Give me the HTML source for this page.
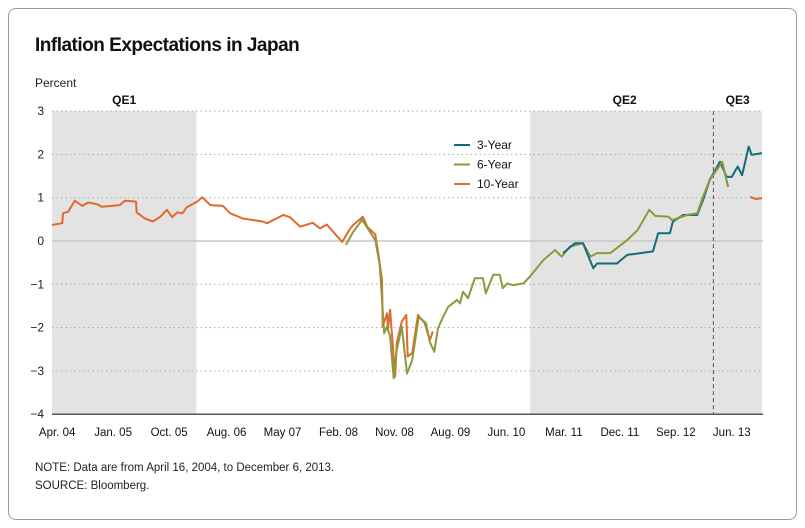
<!DOCTYPE html>
<html><head><meta charset="utf-8"><style>
body{margin:0;background:#fff;font-family:"Liberation Sans",sans-serif;}
#frame{position:absolute;left:8px;top:8px;width:787px;height:510px;border:1px solid #9a9a9a;border-radius:8px;}
</style></head><body>
<div id="frame"></div>
<svg id="chart" width="805" height="528" style="position:absolute;left:0;top:0">
<text x="35" y="51" font-size="19" font-weight="bold" fill="#111" style="letter-spacing:-0.5px">Inflation Expectations in Japan</text>
<text x="35" y="87" font-size="12" fill="#222">Percent</text>
<text x="35" y="471" font-size="11.5" fill="#222">NOTE: Data are from April 16, 2004, to December 6, 2013.</text>
<text x="35" y="489" font-size="11.5" fill="#222">SOURCE: Bloomberg.</text>
<g id="g"></g>
</svg>
<script>
const qeNames=["QE1","QE2","QE3"];
const qeStart=[2004.29,2010.78,2013.27];
const qeEnd=[2006.25,2013.93,2013.93];
const yTicks=[3,2,1,0,-1,-2,-3,-4];
const xLabels=["Apr. 04","Jan. 05","Oct. 05","Aug. 06","May 07","Feb. 08","Nov. 08","Aug. 09","Jun. 10","Mar. 11","Dec. 11","Sep. 12","Jun. 13"];
const xLabelDates=[2004.36,2005.12,2005.88,2006.66,2007.42,2008.18,2008.94,2009.70,2010.46,2011.24,2012.00,2012.76,2013.52];
const y10Dates=[2004.29,2004.43,2004.44,2004.51,2004.60,2004.70,2004.78,2004.90,2004.97,2005.21,2005.28,2005.43,2005.44,2005.55,2005.66,2005.76,2005.85,2005.92,2005.99,2006.06,2006.12,2006.26,2006.33,2006.44,2006.61,2006.71,2006.88,2007.15,2007.21,2007.43,2007.52,2007.66,2007.83,2007.93,2008.02,2008.11,2008.23,2008.34,2008.38,2008.51,2008.57,2008.68,2008.72,2008.77,2008.78,2008.84,2008.85,2008.88,2008.95,2008.97,2009.04,2009.10,2009.12,2009.18,2009.26,2009.35,2009.42,2009.46];
const y10Vals=[0.37,0.41,0.64,0.68,0.93,0.81,0.89,0.85,0.79,0.83,0.93,0.91,0.66,0.52,0.45,0.56,0.72,0.55,0.66,0.64,0.78,0.91,1.01,0.83,0.81,0.64,0.52,0.45,0.41,0.60,0.55,0.33,0.42,0.29,0.38,0.21,-0.02,0.29,0.37,0.56,0.33,0.15,-0.29,-0.9,-1.98,-1.67,-2.06,-1.59,-3.13,-2.36,-1.86,-1.71,-2.67,-2.59,-1.71,-1.9,-2.29,-2.09];
const y10bDates=[2013.77,2013.84,2013.93];
const y10bVals=[1.02,0.97,0.99];
const y6Dates=[2008.28,2008.38,2008.50,2008.68,2008.74,2008.80,2008.84,2008.88,2008.93,2008.97,2009.04,2009.11,2009.18,2009.27,2009.37,2009.42,2009.48,2009.53,2009.60,2009.67,2009.79,2009.83,2009.87,2009.94,2010.03,2010.14,2010.18,2010.28,2010.37,2010.41,2010.47,2010.55,2010.69,2010.78,2010.96,2011.12,2011.21,2011.32,2011.50,2011.60,2011.69,2011.87,2012.10,2012.24,2012.40,2012.48,2012.66,2012.71,2012.91,2013.05,2013.13,2013.22,2013.39,2013.47];
const y6Vals=[-0.09,0.21,0.49,0.02,-0.55,-2.13,-1.98,-2.21,-3.17,-2.52,-1.98,-3.06,-2.75,-1.75,-1.9,-2.33,-2.56,-2.02,-1.75,-1.52,-1.36,-1.44,-1.17,-1.32,-0.86,-0.86,-1.21,-0.78,-0.78,-1.09,-0.98,-1.02,-0.98,-0.82,-0.44,-0.21,-0.36,-0.13,-0.05,-0.36,-0.28,-0.28,0.02,0.25,0.72,0.58,0.56,0.48,0.6,0.64,1.02,1.41,1.83,1.25];
const y3Dates=[2011.23,2011.39,2011.50,2011.64,2011.69,2011.96,2012.10,2012.45,2012.52,2012.68,2012.72,2012.86,2013.05,2013.13,2013.22,2013.36,2013.45,2013.52,2013.60,2013.66,2013.75,2013.79,2013.93];
const y3Vals=[-0.28,-0.05,-0.05,-0.63,-0.52,-0.52,-0.32,-0.24,0.18,0.18,0.45,0.6,0.6,0.95,1.41,1.83,1.48,1.48,1.72,1.52,2.18,1.99,2.03];

const X0=52,X1=762,T0=2004.29,T1=2013.93;
const xs=t=>X0+(t-T0)/(T1-T0)*(X1-X0);
const ys=v=>241-v*43.3;
const NS="http://www.w3.org/2000/svg";
const g=document.getElementById('g');
function mk(tag,attrs,parent){const e=document.createElementNS(NS,tag);for(const k in attrs)e.setAttribute(k,attrs[k]);(parent||g).appendChild(e);return e;}
for(let i=0;i<2;i++){
 const r=mk('rect',{x:xs(qeStart[i]),y:ys(3),width:xs(qeEnd[i])-xs(qeStart[i]),height:ys(-4)-ys(3),fill:'#e3e3e3'});
 
 
}
yTicks.forEach(v=>{
 let l;
 if(v===-4) l=mk('line',{x1:X0,x2:X1+1,y1:ys(v),y2:ys(v),stroke:'#222','stroke-width':1.2});
 else if(v===0) l=mk('line',{x1:X0,x2:X1+1,y1:ys(v),y2:ys(v),stroke:'#c8c8c8','stroke-width':1.5});
 else l=mk('line',{x1:X0,x2:X1+1,y1:ys(v),y2:ys(v),stroke:'#aaa','stroke-width':1,'stroke-dasharray':'1.5,3'});
 
 
 const t=mk('text',{x:44,y:ys(v)+4,'text-anchor':'end','font-size':12,fill:'#222'});
 t.textContent=v<0?'\u2212'+(-v):String(v);
 
 
});
const d=mk('line',{x1:xs(qeStart[2]),x2:xs(qeStart[2]),y1:ys(3),y2:ys(-4),stroke:'#555','stroke-width':1,'stroke-dasharray':'4,3'});


const qeLabelX=[(xs(qeStart[0])+xs(qeEnd[0]))/2,(xs(qeStart[1])+xs(qeStart[2]))/2+3,(xs(qeStart[2])+X1)/2];
qeNames.forEach((n,i)=>{
 const t=mk('text',{x:qeLabelX[i],y:104,'text-anchor':'middle','font-size':12,'font-weight':'bold',fill:'#111'});
 t.textContent=n;
 
 
});
xLabels.forEach((s,i)=>{
 const t=mk('text',{x:xs(xLabelDates[i]),y:436,'text-anchor':'middle','font-size':11.5,fill:'#111'});
 t.textContent=s;
 
 
});
function line(dates,vals,color,name){
 const p=mk('polyline',{points:dates.map((t,i)=>xs(t).toFixed(1)+','+ys(vals[i]).toFixed(1)).join(' '),fill:'none',stroke:color,'stroke-width':2,'stroke-linejoin':'round'});
 
 
}
line(y10Dates,y10Vals,'#e06a2c','series-10-year');
line(y6Dates,y6Vals,'#8a9a3c','series-6-year');
line(y3Dates,y3Vals,'#0f6e7a','series-3-year');
line(y6Dates.slice(-8),y6Vals.slice(-8),'#8a9a3c','series-6-year-top');
line(y10bDates,y10bVals,'#e06a2c','series-10-year-end');
const leg=[['3-Year','#0f6e7a'],['6-Year','#8a9a3c'],['10-Year','#e06a2c']];
leg.forEach((e,i)=>{
 const yy=145+i*19.5;
 const l=mk('line',{x1:454,x2:470,y1:yy,y2:yy,stroke:e[1],'stroke-width':2});
 
 
 const t=mk('text',{x:477,y:yy+4,'font-size':12,fill:'#111'});
 t.textContent=e[0];
 
 
});
</script>
</body></html>
